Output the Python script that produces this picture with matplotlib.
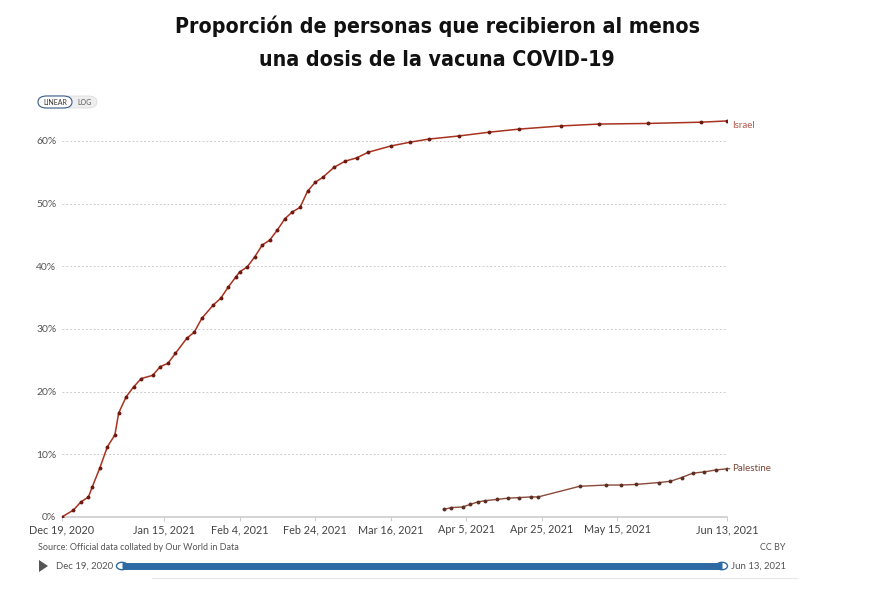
import matplotlib
matplotlib.use('Agg')
import matplotlib.pyplot as plt
from matplotlib.patches import FancyBboxPatch, Circle, Polygon
import pandas as pd

start = pd.Timestamp('2020-12-19')

israel_days = [0, 3, 5, 7, 8, 10, 12, 14, 15, 17, 19, 21, 24, 26, 28, 30, 33, 35, 37, 40,
               42, 44, 46, 47, 49, 51, 53, 55, 57, 59, 61, 63, 65, 67, 69, 72, 75, 78, 81,
               87, 92, 97, 105, 113, 121, 132, 142, 155, 169, 176]
israel_vals = [0.0, 1.1, 2.4, 3.2, 4.8, 7.8, 11.2, 13.1, 16.6, 19.2, 20.8, 22.1, 22.6, 24.0,
               24.5, 26.1, 28.5, 29.5, 31.7, 33.8, 34.9, 36.7, 38.3, 39.1, 39.9, 41.5, 43.4,
               44.2, 45.8, 47.6, 48.7, 49.4, 52.0, 53.4, 54.2, 55.8, 56.8, 57.3, 58.2, 59.2,
               59.8, 60.3, 60.8, 61.4, 61.9, 62.4, 62.7, 62.8, 63.0, 63.2]

palestine_days = [101, 103, 106, 108, 110, 112, 115, 118, 121, 124, 126, 137, 144, 148,
                  152, 158, 161, 164, 167, 170, 173, 176]
palestine_vals = [1.2, 1.5, 1.6, 2.0, 2.4, 2.6, 2.8, 3.0, 3.1, 3.2, 3.2, 4.9, 5.1, 5.1,
                  5.2, 5.5, 5.7, 6.3, 7.0, 7.2, 7.5, 7.7]

tick_dates = ['2020-12-19', '2021-01-15', '2021-02-04', '2021-02-24', '2021-03-16',
              '2021-04-05', '2021-04-25', '2021-05-15', '2021-06-13']
tick_labels = ['Dec 19, 2020', 'Jan 15, 2021', 'Feb 4, 2021', 'Feb 24, 2021', 'Mar 16, 2021',
               'Apr 5, 2021', 'Apr 25, 2021', 'May 15, 2021', 'Jun 13, 2021']
y_ticks = [0, 10, 20, 30, 40, 50, 60]

title = 'Proporción de personas que recibieron al menos\nuna dosis de la vacuna COVID-19'

israel_color = '#a8321f'
palestine_color = '#8a4a3a'
text_gray = '#555555'

W, H = 880, 595
fig = plt.figure(figsize=(W / 100, H / 100), dpi=100)

def fx(px):
    return px / W

def fy(py):
    return 1 - py / H

# axes: 0% at y=517, 60% at y=141
ymax = 64
px_per_pct = (517 - 141) / 60
top = 517 - ymax * px_per_pct
ax = fig.add_axes([fx(62), fy(517), fx(727) - fx(62), (517 - top) / H])

x_isr = [start + pd.Timedelta(days=d) for d in israel_days]
x_pal = [start + pd.Timedelta(days=d) for d in palestine_days]

ax.plot(x_isr, israel_vals, color=israel_color, lw=1.1, marker='o', markersize=1.8,
        markerfacecolor='#6e1a10', markeredgecolor='#6e1a10', zorder=3)
ax.plot(x_pal, palestine_vals, color=palestine_color, lw=1.0, marker='o', markersize=1.8,
        markerfacecolor='#5e2e22', markeredgecolor='#5e2e22', zorder=3)

ax.set_xlim(start, pd.Timestamp('2021-06-13'))
ax.set_ylim(0, ymax)
ax.set_yticks(y_ticks)
ax.set_yticklabels([f'{v}%' for v in y_ticks], family='Lato', fontsize=7.5, color=text_gray)
ax.set_xticks(pd.to_datetime(tick_dates))
ax.set_xticklabels(tick_labels, family='Lato', fontsize=7.8, color='#444444')
ax.tick_params(axis='y', length=0, pad=4)
ax.tick_params(axis='x', length=3, color='#cccccc', pad=2)
ax.grid(axis='y', color='#cccccc', linestyle=(0, (2, 2)), lw=0.7)
for s in ['top', 'right', 'left']:
    ax.spines[s].set_visible(False)
ax.spines['bottom'].set_color('#cccccc')
ax.spines['bottom'].set_linewidth(1.2)

# end labels
last = pd.Timestamp('2021-06-13')
ax.annotate('Israel', xy=(last, israel_vals[-1]), xytext=(4, -3), textcoords='offset points',
            family='Lato', fontsize=7, color='#b05a50', va='center', annotation_clip=False)
ax.annotate('Palestine', xy=(last, palestine_vals[-1]), xytext=(4, 0), textcoords='offset points',
            family='Lato', fontsize=7, color='#7a4538', va='center', annotation_clip=False,
            arrowprops=dict(arrowstyle='-', color='#7a4538', lw=0.8, shrinkA=0, shrinkB=0))

# title
fig.text(0.497, fy(42.5), title, ha='center', va='center', fontsize=15.3, fontweight='heavy',
         family='DejaVu Sans', fontstretch='condensed', color='#111111', linespacing=1.8)

# linear/log buttons
btn = FancyBboxPatch((fx(38), fy(108)), fx(97) - fx(38), (108 - 96) / H,
                     boxstyle='round,pad=0,rounding_size=0.01', transform=fig.transFigure,
                     facecolor='#eeeeee', edgecolor='#dddddd', lw=0.6)
fig.patches.append(btn)
lin = FancyBboxPatch((fx(38), fy(108)), fx(72) - fx(38), (108 - 96) / H,
                     boxstyle='round,pad=0,rounding_size=0.01', transform=fig.transFigure,
                     facecolor='white', edgecolor='#3a5e8c', lw=0.8)
fig.patches.append(lin)
fig.text(fx(55), fy(102), 'LINEAR', ha='center', va='center', fontsize=5, family='Lato', color='#333333')
fig.text(fx(84.5), fy(102), 'LOG', ha='center', va='center', fontsize=5, family='Lato', color='#555555')

# footer
fig.text(fx(38), fy(547), 'Source: Official data collated by Our World in Data', fontsize=6.5,
         family='Lato', color=text_gray, va='center')
fig.text(fx(785), fy(547), 'CC BY', fontsize=6.5, family='Lato', color=text_gray, va='center', ha='right')

# timeline slider
tri = Polygon([[fx(39), fy(560)], [fx(39), fy(572)], [fx(48), fy(566)]], closed=True,
              transform=fig.transFigure, facecolor='#555555', edgecolor='none')
fig.patches.append(tri)
fig.text(fx(56), fy(566), 'Dec 19, 2020', fontsize=6.9, family='Lato', color=text_gray, va='center')
fig.add_artist(plt.Line2D([fx(122), fx(722)], [fy(566), fy(566)], transform=fig.transFigure,
                          color='#2d6aa3', lw=5, solid_capstyle='butt'))
for cx in (122, 722):
    fig.patches.append(Circle((fx(cx), fy(566)), 5.5 / W, transform=fig.transFigure,
                              facecolor='white', edgecolor='#2d6aa3', lw=1))
fig.text(fx(731), fy(566), 'Jun 13, 2021', fontsize=6.9, family='Lato', color=text_gray, va='center')
fig.add_artist(plt.Line2D([fx(152), fx(797)], [fy(578), fy(578)], transform=fig.transFigure,
                          color='#e6e6e6', lw=0.8))

fig.savefig('out.png', dpi=100)
